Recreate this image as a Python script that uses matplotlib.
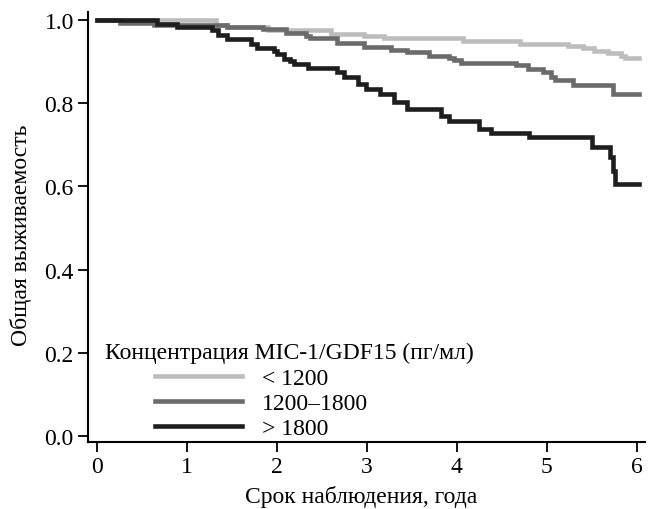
import matplotlib
matplotlib.use("Agg")
from matplotlib import pyplot as plt

# Kaplan-Meier steps (years, survival)
t_low = [0, 1.32, 1.45, 1.9, 2.6, 2.97, 3.19, 4.07, 4.70, 5.24, 5.40, 5.53, 5.68, 5.83, 5.87, 6.02]
s_low = [1.0, 0.988, 0.982, 0.975, 0.965, 0.962, 0.956, 0.948, 0.942, 0.938, 0.932, 0.926, 0.920, 0.914, 0.907, 0.907]

t_mid = [0, 0.25, 0.63, 1.45, 1.85, 2.1, 2.32, 2.37, 2.67, 2.97, 3.27, 3.45, 3.69, 3.91, 3.97,
         4.05, 4.66, 4.79, 4.96, 5.05, 5.09, 5.29, 5.74, 6.02]
s_mid = [1.0, 0.991, 0.988, 0.982, 0.977, 0.969, 0.961, 0.955, 0.943, 0.935, 0.928, 0.922, 0.914, 0.908, 0.903,
         0.896, 0.891, 0.882, 0.874, 0.862, 0.855, 0.843, 0.822, 0.822]

t_high = [0, 0.67, 0.89, 1.28, 1.35, 1.45, 1.71, 1.78, 1.97, 2.0, 2.08, 2.15, 2.19, 2.35, 2.67, 2.75,
          2.9, 2.99, 3.15, 3.30, 3.45, 3.82, 3.91, 4.25, 4.38, 4.80, 5.5, 5.70, 5.74, 5.76, 6.02]
s_high = [1.0, 0.990, 0.983, 0.975, 0.963, 0.953, 0.941, 0.931, 0.925, 0.917, 0.905, 0.900, 0.894, 0.883, 0.874, 0.862,
          0.846, 0.834, 0.822, 0.802, 0.786, 0.770, 0.758, 0.738, 0.728, 0.718, 0.695, 0.670, 0.638, 0.607, 0.607]

labels = ["< 1200", "1200\u20131800", "> 1800"]
colors = ["#bdbdbd", "#6b6b6b", "#1e1e1e"]
x_ticks = [0, 1, 2, 3, 4, 5, 6]
y_ticks = [0.0, 0.2, 0.4, 0.6, 0.8, 1.0]

plt.rcParams["font.family"] = ["Liberation Serif", "DejaVu Serif"]

fig = plt.figure(figsize=(6.5, 5.1), dpi=100)
ax = fig.add_axes([0.135, 0.1314, 0.857, 0.8431])

for t, s, lab, col in zip([t_low, t_mid, t_high], [s_low, s_mid, s_high], labels, colors):
    ax.step(t, s, where="post", color=col, lw=3.3, label=lab, solid_joinstyle="miter")

ax.set_xlim(-0.103, 6.09)
ax.set_ylim(-0.0132, 1.0185)
ax.set_xticks(x_ticks)
ax.set_yticks(y_ticks)
ax.set_yticklabels(["%.1f" % v for v in y_ticks])
for side in ["top", "right"]:
    ax.spines[side].set_visible(False)
for side in ["left", "bottom"]:
    ax.spines[side].set_linewidth(1.5)
ax.tick_params(direction="out", length=7, width=1.3, labelsize=17, pad=3)

ax.set_xlabel("Срок наблюдения, года", fontsize=17, labelpad=6, x=0.491)
ax.set_ylabel("Общая выживаемость", fontsize=17, labelpad=9, y=0.484)

ax.text(0.031, 0.195, "Концентрация MIC-1/GDF15 (пг/мл)", transform=ax.transAxes,
        fontsize=17, va="baseline", ha="left")
ax.legend(loc="center left", bbox_to_anchor=(0.121, 0.09), frameon=False, fontsize=17,
          handlelength=3.68, handletextpad=0.85, labelspacing=0.14, borderpad=0, borderaxespad=0)

fig.savefig("out.png", dpi=100)
